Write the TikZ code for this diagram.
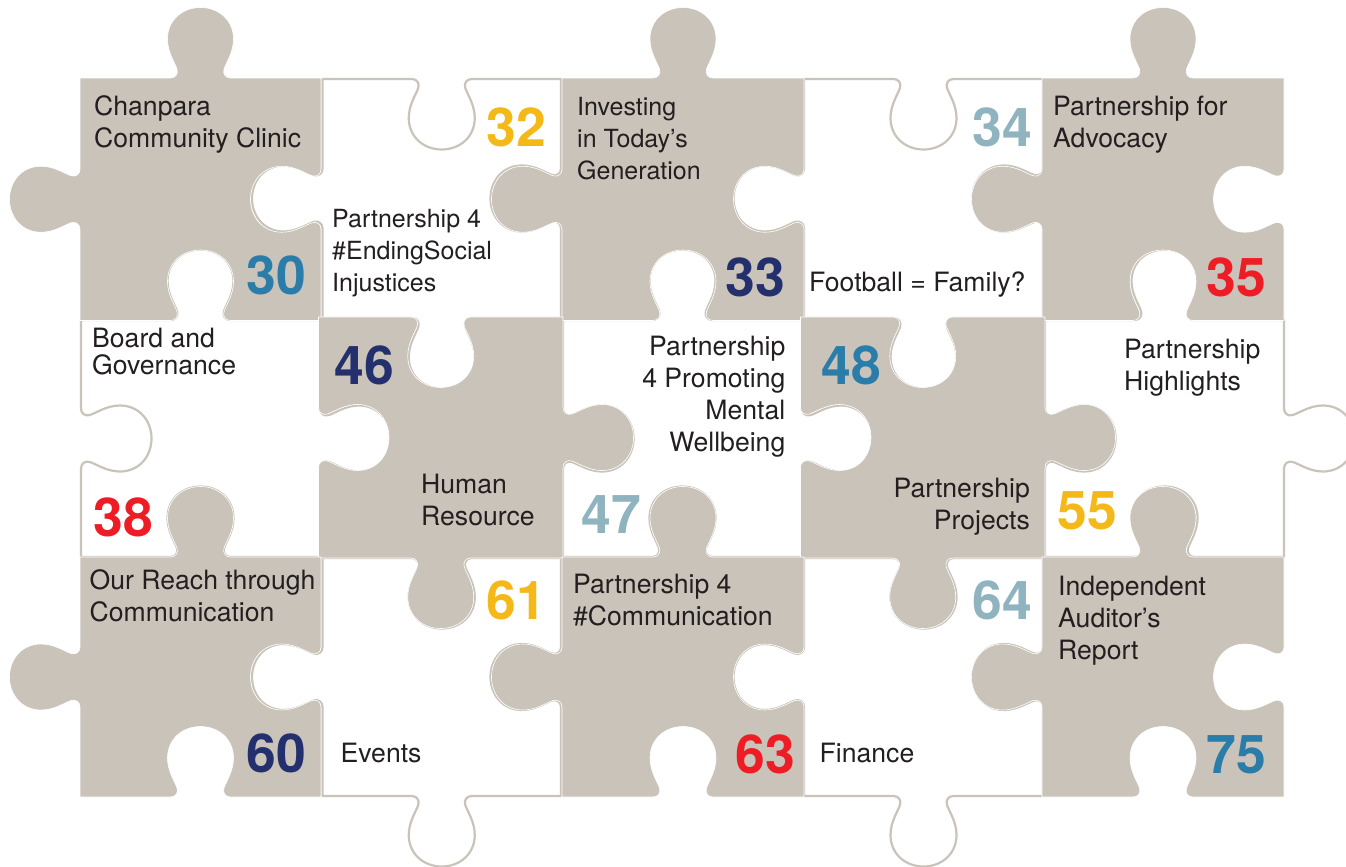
\documentclass[tikz,border=0pt]{standalone}
\usepackage{fontspec}
\setmainfont{TeX Gyre Heros}
\definecolor{piecegray}{HTML}{C9C3B9}
\definecolor{ink}{HTML}{231F20}
\definecolor{numblue}{HTML}{2A7CA9}
\definecolor{numnavy}{HTML}{242F6E}
\definecolor{numgold}{HTML}{F4B919}
\definecolor{numpale}{HTML}{8FB4BF}
\definecolor{numred}{HTML}{EE1C25}
% one tab or notch: position of the middle of the base, rotation, +1 tab / -1 notch
\newcommand\kb[4]{{[shift={#1},rotate=#3,yscale=#4]
  -- (-30,0) .. controls (-25,0) and (-22,-4) .. (-23.5,-9)
  .. controls (-26,-16) and (-33,-26) .. (-33,-39)
  .. controls (-33,-58) and (-18,-70.5) .. (0,-70.5)
  .. controls (18,-70.5) and (33,-58) .. (33,-39)
  .. controls (33,-26) and (26,-16) .. (23.5,-9)
  .. controls (22,-4) and (25,0) .. (30,0)}}
% style, x0, y0, x1, y1, top, right, bottom, left
\newcommand\piece[9]{\path[#1] (#2,#3)
  \kb{({(#2+#4)/2},#3)}{0}{0}{#6}{} -- (#4,#3)
  \kb{(#4,{(#3+#5)/2})}{0}{-90}{#7}{} -- (#4,#5)
  \kb{({(#2+#4)/2},#5)}{0}{180}{#8}{} -- (#2,#5)
  \kb{(#2,{(#3+#5)/2})}{0}{90}{#9}{} -- cycle;}
\tikzset{
  whitepiece/.style={fill=white,draw=piecegray,line width=2.2pt,line join=round},
  graypiece/.style={fill=piecegray,draw=white,line width=0.6pt,line join=round},
  lbl/.style={inner sep=0pt,text=ink,font=\fontsize{26.6}{32}\selectfont,align=left},
  lblsmall/.style={lbl,font=\fontsize{25}{32}\selectfont},
  lblr/.style={lbl,align=right},
  num/.style={inner sep=0pt,font=\fontsize{53.5}{53.5}\selectfont\bfseries},
}
\begin{document}
\begin{tikzpicture}[x=1pt,y=-1pt]
\useasboundingbox (0,0) rectangle (1346,867);
\clip (0,0) rectangle (1346,867);
% white pieces
\piece{whitepiece}{322.5}{79}{561}{318}{-1}{-1}{1}{1}
\piece{whitepiece}{804}{79}{1043}{318}{-1}{-1}{1}{1}
\piece{whitepiece}{81}{320}{320}{557}{1}{1}{-1}{-1}
\piece{whitepiece}{563}{320}{802}{557}{1}{1}{-1}{-1}
\piece{whitepiece}{1045}{320}{1284}{557}{1}{1}{-1}{-1}
\piece{whitepiece}{322.5}{558}{561}{796}{-1}{-1}{1}{1}
\piece{whitepiece}{804}{558}{1043}{796}{-1}{-1}{1}{1}
% grey pieces
\piece{graypiece}{80}{78}{321}{320.5}{1}{-1}{-1}{1}
\piece{graypiece}{562}{78}{804}{320.5}{1}{-1}{-1}{1}
\piece{graypiece}{1042}{78}{1284}{320.5}{1}{-1}{-1}{1}
\piece{graypiece}{318.5}{317}{563}{558}{-1}{1}{1}{-1}
\piece{graypiece}{800.5}{317}{1045}{558}{-1}{1}{1}{-1}
\piece{graypiece}{80}{557}{321}{797}{1}{-1}{-1}{1}
\piece{graypiece}{562}{557}{804}{797}{1}{-1}{-1}{1}
\piece{graypiece}{1042}{557}{1284}{797}{1}{-1}{-1}{1}
% labels
\node[lbl,anchor=west] (t1) at (94,124.5) {Chanpara\\Community Clinic};
\node[lblsmall,anchor=west] (t2) at (332,253.5) {Partnership 4\\\#EndingSocial\\Injustices};
\node[lblsmall,anchor=west] (t3) at (577,139) {Investing\\in Today’s\\Generation};
\node[lbl,anchor=west] (t4) at (1053,124.5) {Partnership for\\Advocacy};
\node[lbl,anchor=west] (t5) at (809,284.5) {Football = Family?};
\node[lbl,anchor=west,font=\fontsize{26.6}{27}\selectfont] (t6) at (92,351.5) {Board and\\Governance};
\node[lblr,anchor=east] (t7) at (785.5,396.5) {Partnership\\4 Promoting\\Mental\\Wellbeing};
\node[lbl,anchor=west] (t8) at (1124,367.5) {Partnership\\Highlights};
\node[lbl,anchor=west] (t9) at (421,500) {Human\\Resource};
\node[lblr,anchor=east] (t10) at (1030,506.5) {Partnership\\Projects};
\node[lbl,anchor=west] (t11) at (89.5,596) {Our Reach through\\Communication};
\node[lbl,anchor=west] (t12) at (573,600) {Partnership 4\\\#Communication};
\node[lbl,anchor=west] (t13) at (1058,620.5) {Independent\\Auditor’s\\Report};
\node[lbl,anchor=west] (t14) at (340.5,753) {Events};
\node[lbl,anchor=west] (t15) at (819.5,753) {Finance};
% page numbers
\node[num,text=numblue] (n30) at (276,275) {30};
\node[num,text=numgold] (n32) at (516,127) {32};
\node[num,text=numnavy] (n33) at (755,277) {33};
\node[num,text=numpale] (n34) at (1002,127) {34};
\node[num,text=numred] (n35) at (1236,277) {35};
\node[num,text=numnavy] (n46) at (364.5,365) {46};
\node[num,text=numblue] (n48) at (851,365) {48};
\node[num,text=numred] (n38) at (123,517) {38};
\node[num,text=numpale] (n47) at (611,515) {47};
\node[num,text=numgold] (n55) at (1087,511) {55};
\node[num,text=numgold] (n61) at (516,600) {61};
\node[num,text=numpale] (n64) at (1002,600) {64};
\node[num,text=numnavy] (n60) at (276,753) {60};
\node[num,text=numred] (n63) at (765,754) {63};
\node[num,text=numblue] (n75) at (1236,755) {75};
\end{tikzpicture}
\end{document}
